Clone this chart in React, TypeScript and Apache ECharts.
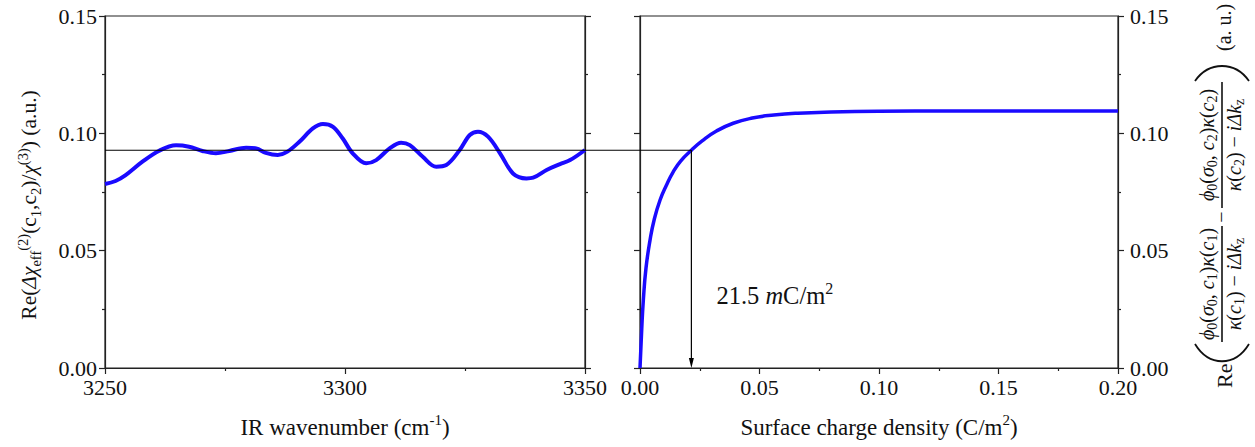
import { useEffect, useRef } from "react";
import * as echarts from "echarts";

// ---- data ----
const irWavenumber = [
  3250, 3252.2, 3254.3, 3257.8, 3261.3, 3264.8, 3267.5, 3270.3, 3273.1, 3275.9,
  3279.4, 3281.5, 3283.5, 3286, 3288, 3290.5, 3293.3, 3295.4, 3297.5, 3299.5,
  3301.6, 3304.4, 3306.5, 3309.3, 3311.7, 3313.5, 3316.2, 3319, 3321.1, 3323.9,
  3326, 3327.7, 3329.8, 3332.3, 3335, 3337.8, 3339.2, 3342, 3344.8, 3346.9, 3350,
];
const irResponse = [
  0.0784, 0.0797, 0.0822, 0.0879, 0.0926, 0.0949, 0.0943, 0.0925, 0.0915, 0.0925,
  0.0939, 0.0936, 0.0917, 0.0908, 0.0922, 0.0964, 0.1021, 0.104, 0.1028, 0.0979,
  0.0915, 0.0872, 0.0886, 0.0936, 0.096, 0.095, 0.09, 0.0858, 0.0865, 0.0929,
  0.0993, 0.1007, 0.0986, 0.0915, 0.0829, 0.0808, 0.0811, 0.0844, 0.0869, 0.0886, 0.0929,
];
const chargeDensity = [
  0, 0.0007, 0.0014, 0.0025, 0.0042, 0.006, 0.0084, 0.011, 0.0139, 0.017, 0.0215,
  0.026, 0.032, 0.039, 0.047, 0.056, 0.066, 0.08, 0.1, 0.13, 0.16, 0.2,
];
const chargeResponse = [
  0, 0.016, 0.029, 0.0425, 0.0545, 0.0635, 0.0716, 0.0778, 0.0836, 0.0882, 0.0928,
  0.0968, 0.101, 0.1043, 0.1065, 0.1078, 0.1086, 0.1091, 0.1094, 0.1095, 0.1095, 0.1095,
];
const REF_X = 0.0215; // 21.5 mC/m^2
const REF_Y = 0.0928;
const annotationText = "{n|21.5 }{i|m}{n|C/m}{sup|2}";

const FONT = "Liberation Serif";
const BLUE = "#1a0aff";
const AXIS = "#222";

const axisCommon = {
  axisLine: { show: true, onZero: false, lineStyle: { color: AXIS, width: 1.2 } },
  axisTick: { show: true, inside: false, length: 6, lineStyle: { color: AXIS, width: 1.2 } },
  minorTick: { show: true, splitNumber: 2, length: 3, lineStyle: { color: AXIS, width: 1.2 } },
  splitLine: { show: false },
};
const labelStyle = { fontFamily: FONT, fontSize: 22, color: "#111" };

const subSup = (size: number, lh: number) => ({
  sub: { fontFamily: FONT, fontSize: size, lineHeight: lh, verticalAlign: "bottom", fill: "#111", color: "#111" },
  sup: { fontFamily: FONT, fontSize: size, lineHeight: lh, verticalAlign: "top", fill: "#111", color: "#111" },
});

export default function App() {
  const ref = useRef<HTMLDivElement>(null);
  useEffect(() => {
    if (!ref.current) return;
    const chart = echarts.init(ref.current, undefined, { renderer: "svg" });
    const nameRich = {
      n: { fontFamily: FONT, fontSize: 23, lineHeight: 30, color: "#111" },
      sup: { fontFamily: FONT, fontSize: 15, lineHeight: 17, verticalAlign: "top", color: "#111" },
    };
    chart.setOption({
      animation: false,
      backgroundColor: "#fff",
      grid: [
        { left: 105, top: 16, width: 480, height: 352, show: true, borderColor: AXIS, borderWidth: 1.2, backgroundColor: "transparent" },
        { left: 640, top: 16, width: 478, height: 352, show: true, borderColor: AXIS, borderWidth: 1.2, backgroundColor: "transparent" },
      ],
      xAxis: [
        {
          ...axisCommon, type: "value", gridIndex: 0, position: "bottom", min: 3250, max: 3350, interval: 50,
          axisLabel: { ...labelStyle, margin: 8, formatter: (v: number) => String(v) },
          name: "{n|IR wavenumber (cm}{sup|-1}{n|)}", nameLocation: "middle", nameGap: 44,
          nameTextStyle: { rich: nameRich },
        },
        {
          ...axisCommon, type: "value", gridIndex: 1, position: "bottom", min: 0, max: 0.2, interval: 0.05,
          axisLabel: { ...labelStyle, margin: 8, formatter: (v: number) => v.toFixed(2) },
          name: "{n|Surface charge density (C/m}{sup|2}{n|)}", nameLocation: "middle", nameGap: 44,
          nameTextStyle: { rich: nameRich },
        },
      ],
      yAxis: [
        { ...axisCommon, type: "value", gridIndex: 0, position: "left", min: 0, max: 0.15, interval: 0.05,
          axisLabel: { ...labelStyle, margin: 8, formatter: (v: number) => v.toFixed(2) } },
        { ...axisCommon, type: "value", gridIndex: 0, position: "right", min: 0, max: 0.15, interval: 0.05,
          axisLabel: { show: false } },
        { ...axisCommon, type: "value", gridIndex: 1, position: "left", min: 0, max: 0.15, interval: 0.05,
          axisLabel: { show: false } },
        { ...axisCommon, type: "value", gridIndex: 1, position: "right", min: 0, max: 0.15, interval: 0.05,
          axisLabel: { ...labelStyle, margin: 12, formatter: (v: number) => v.toFixed(2) } },
      ],
      series: [
        {
          type: "line", xAxisIndex: 0, yAxisIndex: 0, showSymbol: false, smooth: 0.35,
          data: irWavenumber.map((x, i) => [x, irResponse[i]]),
          lineStyle: { color: BLUE, width: 4 }, itemStyle: { color: BLUE },
        },
        {
          type: "line", xAxisIndex: 1, yAxisIndex: 2, showSymbol: false, smooth: 0.5,
          data: chargeDensity.map((x, i) => [x, chargeResponse[i]]),
          lineStyle: { color: BLUE, width: 3.5, join: "round" }, itemStyle: { color: BLUE },
        },
      ],
    });

    const p1 = chart.convertToPixel({ gridIndex: 0 }, [3250, REF_Y]) as number[];
    const p2 = chart.convertToPixel({ gridIndex: 1 }, [REF_X, REF_Y]) as number[];
    const p3 = chart.convertToPixel({ gridIndex: 1 }, [REF_X, 0]) as number[];

    const mathN = { fontFamily: FONT, fontSize: 20, lineHeight: 25, fill: "#111", color: "#111" };
    const mathI = { ...mathN, fontStyle: "italic" };
    const mathRich = { n: mathN, i: mathI, ...subSup(14, 15) };
    const frac = (c: string) => ({
      num: `{i|ϕ}{sub|0}{n|(}{i|σ}{sub|0}{n|, }{i|c}{sub|${c}}{n|)}{i|κ}{n|(}{i|c}{sub|${c}}{n|)}`,
      den: `{i|κ}{n|(}{i|c}{sub|${c}}{n|) − }{i|iΔk}{sub|z}`,
    });
    const f1 = frac("1");
    const f2 = frac("2");
    const mkText = (x: number, y: number, text: string, align = "center") => ({
      type: "text", x, y,
      style: { text, rich: mathRich, fontFamily: FONT, fontSize: 20, fill: "#111", align, verticalAlign: "middle" },
    });
    const stroke = { stroke: "#111", lineWidth: 1.6, fill: null };

    const leftTitleRich = {
      n: { fontFamily: FONT, fontSize: 21.5, lineHeight: 28, fill: "#111", color: "#111" },
      i: { fontFamily: FONT, fontSize: 21.5, lineHeight: 28, fontStyle: "italic", fill: "#111", color: "#111" },
      ...subSup(14.5, 16),
    };

    chart.setOption({
      graphic: [
        {
          type: "text", x: 29, y: 205, rotation: Math.PI / 2,
          style: {
            text: "{n|Re(}{i|Δχ}{sub|eff}{sup|(2)}{n|(c}{sub|1}{n|,c}{sub|2}{n|)/}{i|χ}{sup|(3)}{n|) (a.u.)}",
            rich: leftTitleRich, fontFamily: FONT, fontSize: 21.5, fill: "#111", align: "center", verticalAlign: "middle",
          },
        },
        {
          type: "group", x: 1222, y: 388, rotation: Math.PI / 2,
          children: [
            { type: "text", x: 0, y: 2, style: { text: "Re", fontFamily: FONT, fontSize: 22, fill: "#111", align: "left", verticalAlign: "middle" } },
            { type: "bezierCurve", shape: { x1: 44, y1: -27, cpx1: 21, cpy1: -13, cpx2: 21, cpy2: 13, x2: 44, y2: 27 }, style: { ...stroke, lineWidth: 1.8 } },
            { type: "line", shape: { x1: 46, y1: 0, x2: 162, y2: 0 }, style: stroke },
            mkText(104, -15.5, f1.num),
            mkText(104, 12, f1.den),
            { type: "text", x: 171, y: -1, style: { text: "−", fontFamily: FONT, fontSize: 20, fill: "#111", align: "center", verticalAlign: "middle" } },
            { type: "line", shape: { x1: 180, y1: 0, x2: 306, y2: 0 }, style: stroke },
            mkText(243, -15.5, f2.num),
            mkText(243, 12, f2.den),
            { type: "bezierCurve", shape: { x1: 307, y1: -27, cpx1: 327, cpy1: -13, cpx2: 327, cpy2: 13, x2: 307, y2: 27 }, style: { ...stroke, lineWidth: 1.8 } },
            { type: "text", x: 337, y: 2, style: { text: "(a. u.)", fontFamily: FONT, fontSize: 20, fill: "#111", align: "left", verticalAlign: "middle" } },
          ],
        },
        { type: "line", z: 50, shape: { x1: p1[0], y1: p1[1], x2: p2[0], y2: p2[1] }, style: { stroke: "#000", lineWidth: 1.2 } },
        { type: "line", z: 50, shape: { x1: p2[0], y1: p2[1], x2: p3[0], y2: p3[1] - 9 }, style: { stroke: "#000", lineWidth: 1.2 } },
        { type: "polygon", z: 50, shape: { points: [[p3[0] - 2.5, p3[1] - 10], [p3[0] + 2.5, p3[1] - 10], [p3[0], p3[1]]] }, style: { fill: "#000" } },
        {
          type: "text", z: 50, x: p3[0] + 25, y: 295,
          style: {
            text: annotationText,
            rich: {
              n: { fontFamily: FONT, fontSize: 24.5, lineHeight: 30, fill: "#111" },
              i: { fontFamily: FONT, fontSize: 24.5, lineHeight: 30, fontStyle: "italic", fill: "#111" },
              sup: { fontFamily: FONT, fontSize: 16, lineHeight: 17, verticalAlign: "top", fill: "#111" },
            },
            fontFamily: FONT, fontSize: 24.5, fill: "#111", align: "left", verticalAlign: "middle",
          },
        },
      ],
    });

    return () => chart.dispose();
  }, []);
  return <div ref={ref} style={{ position: "absolute", left: 0, top: 0, width: 1255, height: 447 }} />;
}
